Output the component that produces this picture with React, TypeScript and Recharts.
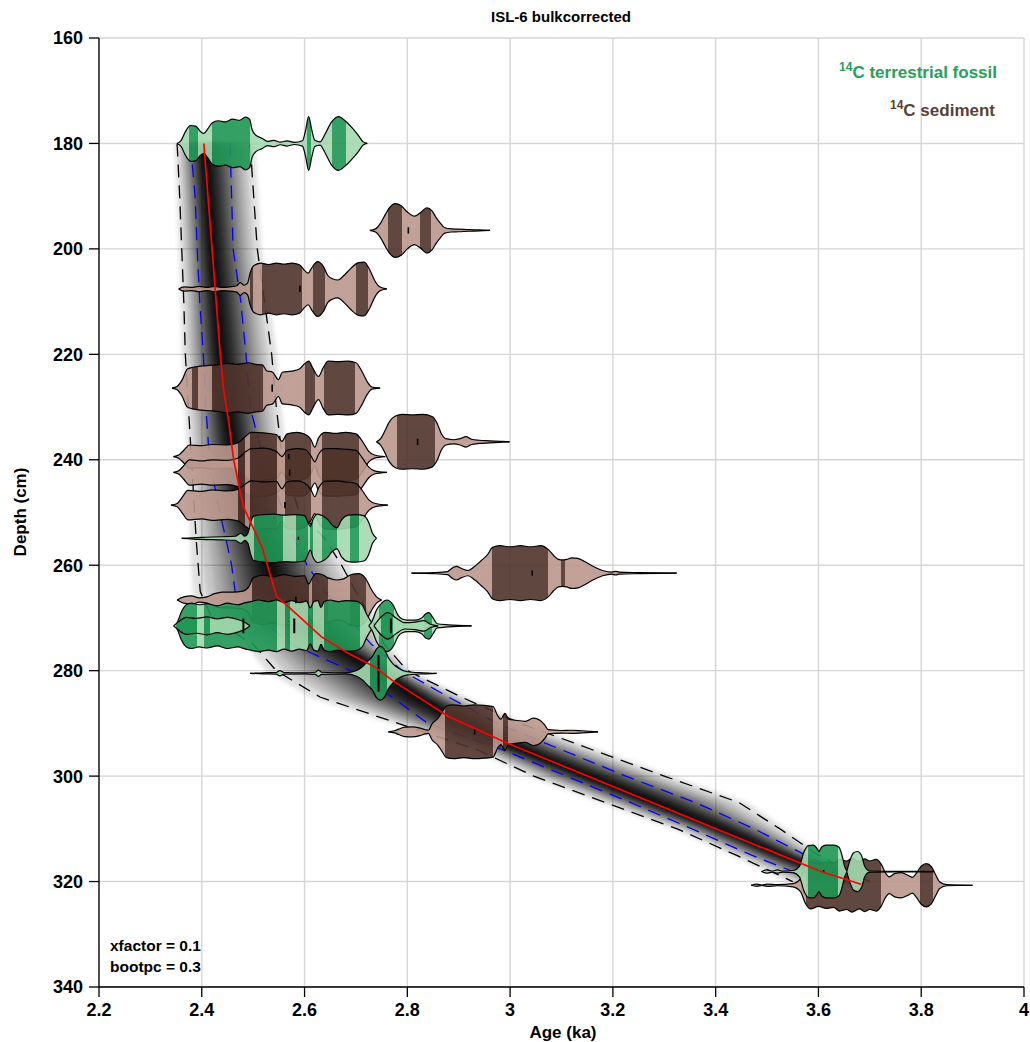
import React from 'react';
import { ComposedChart, Area, Line, XAxis, YAxis, CartesianGrid, ReferenceLine } from 'recharts';

// ---------- axes ----------
const ageTicks = [2.2, 2.4, 2.6, 2.8, 3, 3.2, 3.4, 3.6, 3.8, 4];
const depthTicks = [160, 180, 200, 220, 240, 260, 280, 300, 320, 340];

// ---------- age model envelope (ka at each depth, cm) ----------
const gridDepth = [180, 190, 200, 210, 220, 230, 240, 250, 255, 260, 265, 270, 275, 280, 285, 290, 295, 300, 305, 310, 315, 320];
const medianAge = [2.404, 2.412, 2.42, 2.428, 2.436, 2.448, 2.462, 2.486, 2.51, 2.53, 2.543, 2.593, 2.656, 2.746, 2.821, 2.91, 3.022, 3.152, 3.281, 3.411, 3.53, 3.665];
const innerYoung = [2.378, 2.387, 2.391, 2.396, 2.403, 2.408, 2.415, 2.435, 2.447, 2.458, 2.465, 2.51, 2.575, 2.69, 2.77, 2.84, 2.985, 3.11, 3.234, 3.354, 3.47, 3.6];
const innerOld = [2.455, 2.458, 2.461, 2.476, 2.486, 2.494, 2.52, 2.56, 2.58, 2.605, 2.64, 2.685, 2.73, 2.79, 2.88, 2.975, 3.1, 3.225, 3.36, 3.475, 3.575, 3.68];
const outerYoung = [2.352, 2.357, 2.361, 2.365, 2.368, 2.374, 2.38, 2.386, 2.389, 2.393, 2.397, 2.42, 2.5, 2.545, 2.63, 2.782, 2.936, 3.046, 3.185, 3.325, 3.44, 3.55];
const outerOld = [2.494, 2.501, 2.508, 2.522, 2.536, 2.545, 2.557, 2.59, 2.64, 2.672, 2.7, 2.73, 2.755, 2.8, 2.905, 3.02, 3.16, 3.3, 3.445, 3.525, 3.6, 3.7];

// red median line
const redDepth = [180, 200, 220, 226.4, 232.5, 240, 248.9, 256.5, 266.0, 267.9, 273.6, 276.7, 279.3, 281.8, 288.7, 293.8, 310.4, 318.1, 320.5];
const redAge = [2.404, 2.42, 2.436, 2.442, 2.452, 2.462, 2.481, 2.517, 2.546, 2.569, 2.633, 2.685, 2.737, 2.77, 2.88, 2.996, 3.411, 3.605, 3.683];

// fraction of the envelope covered by each grey shading layer
const shadeSteps = [1.1, 0.92, 0.8, 0.7, 0.62, 0.55, 0.49, 0.44, 0.39, 0.35, 0.31, 0.28, 0.25, 0.22, 0.19, 0.165, 0.14, 0.12, 0.1, 0.08, 0.06, 0.045, 0.03, 0.015];

// ---------- calibrated date distributions: [age ka, half-width cm] ----------
const p180 = [[2.352, 0], [2.36, 0.6], [2.368, 2.2], [2.378, 3.4], [2.388, 3.3], [2.398, 2.2], [2.404, 1.9], [2.412, 2.8], [2.42, 3.9], [2.432, 4.3], [2.446, 4.1], [2.46, 4.6], [2.474, 4.4], [2.485, 5.0], [2.493, 4.6], [2.498, 2.6], [2.506, 1.5], [2.517, 1.0], [2.528, 0.4], [2.54, 0.6], [2.553, 0.25], [2.566, 0.5], [2.58, 0.2], [2.596, 0.5], [2.602, 2.5], [2.608, 5.1], [2.614, 2.6], [2.62, 0.6], [2.63, 0.3], [2.64, 1.8], [2.652, 4.0], [2.666, 5.1], [2.68, 4.2], [2.694, 2.8], [2.705, 1.5], [2.714, 0.3], [2.722, 0]];
const h180 = [[2.376, 2.392], [2.42, 2.494], [2.604, 2.612], [2.654, 2.68]];

const p196 = [[2.727, 0], [2.738, 0.3], [2.748, 1.4], [2.757, 3.0], [2.766, 4.4], [2.776, 5.1], [2.788, 4.7], [2.8, 3.5], [2.814, 2.7], [2.826, 3.4], [2.838, 4.3], [2.848, 3.7], [2.857, 2.3], [2.865, 1.3], [2.873, 0.5], [2.885, 0.3], [2.9, 0.25], [2.92, 0.15], [2.94, 0.1], [2.961, 0]];
const h196 = [[2.763, 2.789], [2.825, 2.846]];

const p207 = [[2.355, 0], [2.365, 0.4], [2.38, 0.3], [2.395, 0.5], [2.41, 0.3], [2.425, 0.5], [2.44, 0.3], [2.455, 0.4], [2.468, 0.6], [2.475, 1.2], [2.482, 0.7], [2.489, 1.1], [2.494, 3.0], [2.501, 4.4], [2.515, 4.9], [2.53, 4.6], [2.545, 4.9], [2.56, 4.7], [2.575, 4.9], [2.59, 4.6], [2.6, 3.5], [2.607, 3.0], [2.614, 4.0], [2.625, 5.2], [2.637, 4.2], [2.645, 2.6], [2.655, 1.9], [2.665, 1.7], [2.676, 2.5], [2.69, 3.9], [2.705, 5.0], [2.716, 5.1], [2.727, 3.6], [2.737, 1.5], [2.746, 0.4], [2.76, 0]];
const h207 = [[2.494, 2.5], [2.517, 2.595], [2.617, 2.64], [2.701, 2.723]];

const p226 = [[2.342, 0], [2.352, 0.3], [2.362, 1.6], [2.372, 3.6], [2.385, 4.0], [2.4, 4.2], [2.415, 4.3], [2.43, 4.4], [2.45, 4.7], [2.47, 4.5], [2.49, 4.8], [2.505, 4.5], [2.518, 4.4], [2.526, 3.3], [2.538, 3.0], [2.549, 1.6], [2.557, 3.0], [2.575, 3.2], [2.59, 3.6], [2.6, 4.6], [2.608, 5.1], [2.617, 3.6], [2.627, 2.2], [2.637, 4.0], [2.646, 5.1], [2.665, 5.0], [2.685, 5.1], [2.7, 4.8], [2.712, 3.1], [2.722, 1.2], [2.731, 0.2], [2.747, 0]];
const h226 = [[2.38, 2.393], [2.42, 2.52], [2.6, 2.62], [2.637, 2.698]];

const p236 = [[2.74, 0], [2.748, 0.6], [2.756, 2.0], [2.765, 3.8], [2.777, 4.9], [2.79, 5.2], [2.81, 5.1], [2.83, 5.2], [2.848, 4.8], [2.858, 3.5], [2.866, 1.6], [2.875, 0.6], [2.89, 0.4], [2.903, 0.6], [2.914, 1.0], [2.925, 0.5], [2.94, 0.3], [2.96, 0.2], [2.98, 0.1], [2.999, 0]];
const h236 = [[2.779, 2.853]];

const p239 = [[2.345, 0], [2.355, 0.3], [2.365, 1.2], [2.376, 2.2], [2.4, 2.1], [2.42, 2.3], [2.45, 2.2], [2.47, 2.6], [2.485, 3.8], [2.496, 4.6], [2.52, 4.5], [2.545, 4.2], [2.556, 2.9], [2.566, 4.3], [2.585, 4.6], [2.6, 4.3], [2.612, 3.3], [2.62, 1.8], [2.627, 3.5], [2.64, 4.6], [2.66, 4.4], [2.68, 4.6], [2.7, 4.3], [2.712, 3.0], [2.725, 1.0], [2.736, 0.3], [2.757, 0]];
const p242 = [[2.345, 0], [2.355, 0.3], [2.365, 1.3], [2.376, 2.4], [2.4, 2.2], [2.42, 2.4], [2.45, 2.3], [2.47, 2.7], [2.485, 3.9], [2.496, 4.5], [2.52, 4.6], [2.545, 4.0], [2.556, 3.0], [2.566, 4.2], [2.585, 4.5], [2.6, 4.4], [2.612, 3.2], [2.62, 2.0], [2.627, 3.4], [2.64, 4.5], [2.66, 4.5], [2.68, 4.4], [2.7, 4.2], [2.712, 2.8], [2.725, 1.0], [2.736, 0.3], [2.76, 0]];
const p248 = [[2.34, 0], [2.352, 0.3], [2.362, 1.5], [2.373, 2.8], [2.4, 2.6], [2.42, 2.9], [2.45, 2.7], [2.47, 3.0], [2.485, 4.0], [2.496, 4.6], [2.52, 4.4], [2.545, 4.5], [2.556, 3.1], [2.566, 4.4], [2.585, 4.6], [2.6, 4.2], [2.612, 3.0], [2.62, 1.6], [2.627, 3.2], [2.64, 4.5], [2.66, 4.6], [2.68, 4.4], [2.7, 4.1], [2.712, 2.8], [2.725, 1.0], [2.738, 0.3], [2.762, 0]];
const hCluster = [[2.471, 2.484], [2.494, 2.546], [2.562, 2.612], [2.633, 2.705]];

const p254 = [[2.361, 0], [2.4, 0.2], [2.44, 0.3], [2.465, 0.4], [2.476, 0.95], [2.484, 0.4], [2.49, 1.0], [2.495, 3.0], [2.501, 4.2], [2.52, 4.5], [2.54, 4.6], [2.56, 4.4], [2.58, 4.5], [2.6, 4.3], [2.606, 3.2], [2.611, 2.2], [2.616, 3.5], [2.625, 4.6], [2.635, 4.3], [2.645, 3.6], [2.653, 2.6], [2.663, 2.0], [2.672, 3.5], [2.685, 4.4], [2.7, 4.5], [2.715, 4.3], [2.725, 3.0], [2.732, 1.0], [2.74, 0]];
const h254 = [[2.501, 2.559], [2.583, 2.606], [2.611, 2.617], [2.633, 2.663], [2.688, 2.705]];

const p261 = [[2.808, 0], [2.85, 0.1], [2.878, 0.3], [2.888, 1.0], [2.896, 1.3], [2.905, 0.9], [2.918, 0.5], [2.93, 1.2], [2.944, 2.4], [2.956, 3.5], [2.966, 4.9], [2.98, 5.2], [3.0, 5.0], [3.02, 5.2], [3.04, 5.0], [3.06, 5.2], [3.074, 4.5], [3.085, 3.3], [3.094, 2.6], [3.102, 2.5], [3.11, 2.6], [3.12, 2.9], [3.132, 2.8], [3.145, 2.2], [3.163, 1.2], [3.18, 0.5], [3.198, 0.2], [3.205, 0.35], [3.212, 0.2], [3.25, 0.1], [3.324, 0]];
const h261 = [[2.964, 3.074], [3.1, 3.106]];

const p266 = [[2.352, 0], [2.365, 0.6], [2.38, 0.8], [2.395, 0.4], [2.41, 0.6], [2.425, 1.2], [2.44, 1.5], [2.46, 1.5], [2.48, 1.7], [2.492, 2.6], [2.5, 4.2], [2.52, 4.7], [2.54, 4.4], [2.56, 4.8], [2.58, 4.5], [2.6, 4.6], [2.608, 3.0], [2.614, 4.0], [2.622, 5.0], [2.635, 4.8], [2.646, 4.2], [2.662, 3.8], [2.676, 4.0], [2.69, 4.8], [2.705, 5.0], [2.718, 4.2], [2.73, 2.0], [2.74, 0.6], [2.75, 0]];
const h266 = [[2.498, 2.608], [2.614, 2.646], [2.688, 2.719]];

const p271a = [[2.347, 0], [2.352, 0.6], [2.36, 2.6], [2.37, 4.0], [2.38, 4.3], [2.395, 4.0], [2.41, 4.2], [2.43, 3.8], [2.45, 4.3], [2.47, 4.0], [2.485, 4.4], [2.495, 4.6], [2.51, 4.9], [2.53, 4.6], [2.545, 4.9], [2.56, 4.4], [2.575, 4.8], [2.59, 4.4], [2.604, 4.7], [2.611, 3.4], [2.618, 4.6], [2.626, 4.8], [2.632, 3.5], [2.638, 4.6], [2.65, 4.9], [2.665, 4.6], [2.68, 4.8], [2.7, 4.7], [2.712, 4.0], [2.722, 2.0], [2.732, 0.5], [2.74, 0]];
const h271a = [[2.352, 2.39], [2.405, 2.546], [2.562, 2.571], [2.607, 2.617], [2.637, 2.708]];

const p271b = [[2.345, 0], [2.355, 0.8], [2.37, 1.6], [2.39, 1.4], [2.41, 1.7], [2.43, 1.3], [2.45, 1.6], [2.47, 1.2], [2.485, 0.6], [2.494, 0]];
const h271b = [[2.35, 2.39], [2.405, 2.416]];

const p271c = [[2.725, 0], [2.732, 1.0], [2.74, 3.0], [2.75, 4.3], [2.76, 4.9], [2.772, 4.0], [2.782, 2.0], [2.79, 1.3], [2.8, 1.1], [2.815, 1.1], [2.828, 1.5], [2.836, 2.3], [2.842, 2.5], [2.85, 1.5], [2.858, 0.4], [2.88, 0.2], [2.925, 0]];
const h271c = [[2.744, 2.775], [2.833, 2.848]];

const p271d = [[2.735, 0], [2.748, 1.6], [2.762, 2.5], [2.778, 1.5], [2.795, 0.6], [2.815, 0.7], [2.832, 1.0], [2.845, 0.3], [2.86, 0]];
const h271d = [[2.748, 2.772]];

const p280 = [[2.494, 0], [2.52, 0.1], [2.545, 0.15], [2.552, 0.5], [2.56, 0.15], [2.6, 0.1], [2.621, 0.2], [2.627, 0.6], [2.633, 0.2], [2.68, 0.1], [2.7, 0.5], [2.712, 1.2], [2.722, 2.2], [2.732, 3.2], [2.74, 4.6], [2.747, 5.1], [2.755, 4.6], [2.763, 3.0], [2.772, 1.8], [2.782, 1.0], [2.8, 0.3], [2.83, 0.1], [2.857, 0]];
const h280 = [[2.727, 2.76]];

const p291 = [[2.763, 0], [2.775, 0.2], [2.783, 0.5], [2.795, 0.9], [2.81, 0.95], [2.825, 0.7], [2.835, 0.4], [2.841, 0.3], [2.848, 1.5], [2.86, 2.6], [2.868, 3.8], [2.876, 4.9], [2.89, 5.1], [2.91, 4.9], [2.93, 5.1], [2.95, 5.0], [2.967, 4.8], [2.975, 3.2], [2.982, 2.4], [2.99, 3.5], [2.997, 2.4], [3.01, 2.2], [3.03, 2.0], [3.045, 2.6], [3.058, 2.2], [3.068, 1.2], [3.074, 0.4], [3.1, 0.25], [3.12, 0.3], [3.14, 0.2], [3.171, 0]];
const h291 = [[2.873, 2.967], [2.986, 2.995]];

const p318a = [[3.489, 0], [3.5, 0.3], [3.51, 0.1], [3.52, 0.3], [3.53, 0.1], [3.55, 0.2], [3.563, 1.0], [3.571, 3.5], [3.58, 4.9], [3.59, 5.0], [3.597, 4.4], [3.601, 3.8], [3.606, 4.6], [3.615, 5.0], [3.63, 5.0], [3.64, 4.6], [3.646, 3.0], [3.651, 1.0], [3.656, 0]];
const h318a = [[3.579, 3.638]];

const p318b = [[3.655, 0], [3.661, 2.0], [3.668, 3.5], [3.676, 3.8], [3.684, 3.0], [3.69, 1.0], [3.7, 0.1], [3.75, 0.05], [3.8, 0.05], [3.825, 0]];
const h318b: number[][] = [];

const p320 = [[3.469, 0], [3.48, 0.2], [3.49, 0.05], [3.5, 0.2], [3.52, 0.1], [3.55, 0.3], [3.565, 1.2], [3.575, 3.5], [3.585, 4.5], [3.6, 4.0], [3.615, 4.4], [3.63, 4.2], [3.641, 4.9], [3.655, 4.6], [3.665, 5.1], [3.68, 4.5], [3.69, 5.0], [3.7, 4.6], [3.712, 4.9], [3.722, 4.0], [3.73, 2.4], [3.738, 1.6], [3.748, 2.2], [3.761, 2.4], [3.772, 2.0], [3.783, 1.5], [3.79, 2.2], [3.8, 3.6], [3.81, 4.1], [3.82, 3.5], [3.828, 2.0], [3.836, 0.6], [3.85, 0.1], [3.9, 0]];
const h320 = [[3.575, 3.722], [3.797, 3.823]];

// draw order: sediments first, fossils on top
const violinDepths = [196.5, 207.6, 226.4, 236.6, 239.4, 242.4, 248.6, 261.5, 266.6, 291.6, 320.7, 180, 254.9, 271.5, 271.5, 271.5, 271.5, 280.5, 318.1, 318.1];
const violinKinds = ['sed', 'sed', 'sed', 'sed', 'sed', 'sed', 'sed', 'sed', 'sed', 'sed', 'sed', 'fos', 'fos', 'fos', 'fos', 'fos', 'fos', 'fos', 'fos', 'fos'];
const violinProfiles = [p196, p207, p226, p236, p239, p242, p248, p261, p266, p291, p320, p180, p254, p271a, p271b, p271c, p271d, p280, p318a, p318b];
const violinHpd = [h196, h207, h226, h236, hCluster, hCluster, hCluster, h261, h266, h291, h320, h180, h254, h271a, h271b, h271c, h271d, h280, h318a, h318b];

// median marks of each date
const markAge = [2.802, 2.591, 2.537, 2.82, 2.569, 2.571, 2.562, 2.588, 3.043, 2.583, 2.481, 2.58, 2.768, 2.744, 2.931, 3.61];
const markDepth = [196.5, 207.6, 226.4, 236.6, 239.4, 242.4, 248.6, 254.9, 261.5, 266.6, 271.5, 271.5, 271.5, 280.5, 291.6, 318.1];
const markHalf = [0.6, 0.6, 0.7, 0.6, 0.5, 0.6, 0.6, 0.3, 0.5, 0.6, 1.4, 1.4, 1.4, 3.5, 0.5, 0.3];

// ---------- styles ----------
const FONT = "'Liberation Sans', Arial, Helvetica, sans-serif";
const COLORS = {
  fosDark: '#1f9654', fosLight: '#a3d9ae',
  sedDark: '#4f332b', sedLight: '#bb978c',
  grid: '#d6d6d6', legendFos: '#27a05a', legendSed: '#5a3f37',
};
const W = 1030;
const H = 1042;

// ---------- derived tables for the library ----------
const shadeLayers = shadeSteps.map((t) =>
  gridDepth.map((d, i) => ({
    depth: d,
    band: [medianAge[i] - t * (medianAge[i] - outerYoung[i]), medianAge[i] + t * (outerOld[i] - medianAge[i])],
  }))
);
const lineData = (ages: number[]) => gridDepth.map((d, i) => ({ depth: d, age: ages[i] }));
const redData = redDepth.map((d, i) => ({ depth: d, age: redAge[i] }));

const violinData = violinProfiles.map((prof, i) =>
  prof.map(([age, hw]) => ({ age, range: [violinDepths[i] - hw, violinDepths[i] + hw] }))
);

function gradientStops(prof: number[][], hpd: number[][], light: string, dark: string) {
  const a0 = prof[0][0];
  const a1 = prof[prof.length - 1][0];
  const pct = (a: number) => `${Math.max(0, Math.min(100, ((a - a0) / (a1 - a0)) * 100)).toFixed(3)}%`;
  const stops = [<stop key="s0" offset="0%" stopColor={light} />];
  hpd.forEach(([s, e], k) => {
    stops.push(
      <stop key={`a${k}`} offset={pct(s)} stopColor={light} />,
      <stop key={`b${k}`} offset={pct(s)} stopColor={dark} />,
      <stop key={`c${k}`} offset={pct(e)} stopColor={dark} />,
      <stop key={`d${k}`} offset={pct(e)} stopColor={light} />
    );
  });
  stops.push(<stop key="s1" offset="100%" stopColor={light} />);
  return stops;
}

const tickStyle = { fontSize: 18, fontWeight: 'bold', fill: '#000', fontFamily: FONT };
const axisLineStyle = { stroke: '#000', strokeWidth: 1.3 };

export default function App() {
  return (
    <div style={{ position: 'absolute', left: 0, top: 0, width: W, height: H, background: '#fff' }}>
      {/* layer 1: axes, grid, envelope (depth is the independent variable) */}
      <div style={{ position: 'absolute', left: 0, top: 0 }}>
        <ComposedChart layout="vertical" width={W} height={H} margin={{ top: 38, right: 6, bottom: 25, left: 0 }}>
          <defs>
            <filter id="envSoft" x="-20%" y="-5%" width="140%" height="110%">
              <feGaussianBlur stdDeviation="2.2" />
            </filter>
          </defs>
          <CartesianGrid stroke={COLORS.grid} strokeWidth={1.4} />
          <XAxis type="number" domain={[2.2, 4]} ticks={ageTicks} interval={0} allowDataOverflow
            height={30} tickSize={10} tickMargin={6} tick={tickStyle} axisLine={axisLineStyle} tickLine={axisLineStyle} />
          <XAxis xAxisId="top" orientation="top" type="number" domain={[2.2, 4]} ticks={ageTicks} interval={0} allowDataOverflow
            height={0} tickSize={9} tickFormatter={() => ''} axisLine={axisLineStyle} tickLine={axisLineStyle} />
          <YAxis type="number" dataKey="depth" domain={[160, 340]} ticks={depthTicks} interval={0} allowDataOverflow
            width={99} tickSize={10} tickMargin={6} tick={tickStyle} axisLine={axisLineStyle} tickLine={axisLineStyle} />
          <YAxis yAxisId="right" orientation="right" type="number" dataKey="depth" domain={[160, 340]} ticks={depthTicks} interval={0} allowDataOverflow
            width={0} tickSize={6} tickFormatter={() => ''} axisLine={axisLineStyle} tickLine={axisLineStyle} />
          {shadeLayers.map((data, k) => (
            <Area key={`shade${k}`} data={data} dataKey="band" type="linear" fill="#000" fillOpacity={0.12}
              filter="url(#envSoft)" stroke="none" isAnimationActive={false} dot={false} activeDot={false} />
          ))}
          <Line data={lineData(outerYoung)} dataKey="age" type="linear" stroke="#000" strokeWidth={1.3} strokeDasharray="13 8" dot={false} activeDot={false} isAnimationActive={false} />
          <Line data={lineData(outerOld)} dataKey="age" type="linear" stroke="#000" strokeWidth={1.3} strokeDasharray="13 8" dot={false} activeDot={false} isAnimationActive={false} />
          <Line data={lineData(innerYoung)} dataKey="age" type="linear" stroke="#0000ff" strokeWidth={1.3} strokeDasharray="13 8" dot={false} activeDot={false} isAnimationActive={false} />
          <Line data={lineData(innerOld)} dataKey="age" type="linear" stroke="#0000ff" strokeWidth={1.3} strokeDasharray="13 8" dot={false} activeDot={false} isAnimationActive={false} />
        </ComposedChart>
      </div>

      {/* layer 2: date distributions and median line (age is the independent variable) */}
      <div style={{ position: 'absolute', left: 0, top: 0 }}>
        <ComposedChart width={W} height={H} margin={{ top: 38, right: 6, bottom: 55, left: 99 }}>
          <defs>
            {violinProfiles.map((prof, i) => {
              const fos = violinKinds[i] === 'fos';
              return (
                <linearGradient key={`vg${i}`} id={`vg${i}`} x1="0" y1="0" x2="1" y2="0">
                  {gradientStops(prof, violinHpd[i], fos ? COLORS.fosLight : COLORS.sedLight, fos ? COLORS.fosDark : COLORS.sedDark)}
                </linearGradient>
              );
            })}
          </defs>
          <XAxis type="number" dataKey="age" domain={[2.2, 4]} allowDataOverflow hide />
          <YAxis type="number" domain={[160, 340]} reversed allowDataOverflow hide />
          {violinData.map((data, i) => (
            <Area key={`v${i}`} data={data} dataKey="range" type="monotone" fill={`url(#vg${i})`} fillOpacity={0.9}
              stroke="#000" strokeWidth={1.2} isAnimationActive={false} dot={false} activeDot={false} />
          ))}
          {markAge.map((a, i) => (
            <ReferenceLine key={`m${i}`} segment={[{ x: a, y: markDepth[i] - markHalf[i] }, { x: a, y: markDepth[i] + markHalf[i] }]}
              stroke="#000" strokeWidth={markHalf[i] > 1 ? 2 : 1.6} />
          ))}
          <Line data={redData} dataKey="depth" type="linear" stroke="#ff0000" strokeWidth={1.7} dot={false} activeDot={false} isAnimationActive={false} />
        </ComposedChart>
      </div>

      {/* layer 3: titles and annotations */}
      <svg width={W} height={H} style={{ position: 'absolute', left: 0, top: 0, pointerEvents: 'none' }}>
        <text x={561} y={22} textAnchor="middle" fontFamily={FONT} fontWeight="bold" fontSize={15} fill="#000">ISL-6 bulkcorrected</text>
        <text x={563} y={1038} textAnchor="middle" fontFamily={FONT} fontWeight="bold" fontSize={17} fill="#000">Age (ka)</text>
        <text x={26} y={512} textAnchor="middle" transform="rotate(-90 26 512)" fontFamily={FONT} fontWeight="bold" fontSize={17} fill="#000">Depth (cm)</text>
        <text x={997} y={78} textAnchor="end" fontFamily={FONT} fontWeight="bold" fill={COLORS.legendFos}>
          <tspan fontSize={12} dy={-7}>14</tspan><tspan fontSize={17} dy={7}>C terrestrial fossil</tspan>
        </text>
        <text x={995} y={116} textAnchor="end" fontFamily={FONT} fontWeight="bold" fill={COLORS.legendSed}>
          <tspan fontSize={12} dy={-7}>14</tspan><tspan fontSize={17} dy={7}>C sediment</tspan>
        </text>
        <text x={110} y={951} fontFamily={FONT} fontWeight="bold" fontSize={15.5} fill="#000">xfactor = 0.1</text>
        <text x={110} y={972} fontFamily={FONT} fontWeight="bold" fontSize={15.5} fill="#000">bootpc = 0.3</text>
      </svg>
    </div>
  );
}
